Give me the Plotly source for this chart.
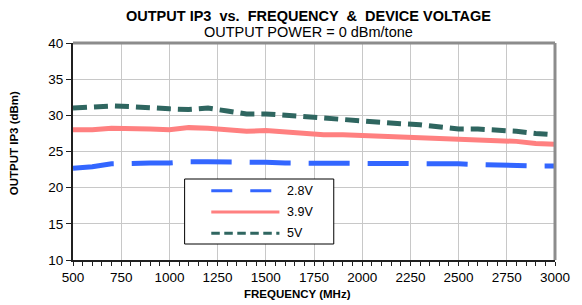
import plotly.graph_objects as go

freq = [500, 600, 700, 800, 900, 1000, 1100, 1200, 1300, 1400, 1500, 1600, 1700,
        1800, 1900, 2000, 2100, 2200, 2300, 2400, 2500, 2600, 2700, 2800, 2900, 3000]
v28 = [22.7, 22.9, 23.3, 23.4, 23.4, 23.4, 23.6, 23.6, 23.6, 23.5, 23.5, 23.4, 23.4,
       23.3, 23.4, 23.45, 23.4, 23.4, 23.3, 23.3, 23.3, 23.2, 23.1, 23.1, 23.0, 23.0]
v39 = [28.0, 28.0, 28.2, 28.2, 28.1, 28.0, 28.3, 28.2, 28.0, 27.8, 27.9, 27.7, 27.6,
       27.3, 27.3, 27.2, 27.1, 27.1, 26.9, 26.8, 26.7, 26.6, 26.5, 26.4, 26.1, 26.0]
v50 = [31.0, 31.2, 31.3, 31.2, 31.0, 30.9, 30.8, 31.0, 30.6, 30.2, 30.2, 30.0, 29.7,
       29.5, 29.4, 29.1, 28.9, 28.85, 28.7, 28.4, 28.1, 28.1, 28.0, 27.8, 27.5, 27.3]
series_names = ["2.8V", "3.9V", "5V"]
x_ticks = [500, 750, 1000, 1250, 1500, 1750, 2000, 2250, 2500, 2750, 3000]
y_ticks = [10, 15, 20, 25, 30, 35, 40]

colors = ["#3366FF", "#FF8080", "#2F6660"]
plot_dash = ["41px,18px", "solid", "14px,7px"]
leg_dash = ["21px,18px", "solid", "8.5px,4.5px"]

FONT = "Liberation Sans, Arial, sans-serif"

fig = go.Figure()
for name, vals, c, d in zip(series_names, [v28, v39, v50], colors, plot_dash):
    fig.add_trace(go.Scatter(x=freq, y=vals, mode="lines", name=name,
                             line=dict(color=c, width=5, dash=d), showlegend=False))

# page has an 8px body margin: figure is sized/offset to compensate
fig.update_layout(
    width=574, height=297,
    margin=dict(l=65, r=21, t=35, b=45),
    paper_bgcolor="white", plot_bgcolor="white",
    font=dict(family=FONT, color="black", size=13.5),
    xaxis=dict(range=[500, 3000], tickvals=x_ticks, ticktext=[str(v) for v in x_ticks],
               showgrid=True, gridcolor="#C8C8C8", gridwidth=1,
               showline=True, linecolor="#202020", linewidth=2,
               ticks="outside", ticklen=4, tickcolor="#202020", tickwidth=1,
               minor=dict(dtick=50, ticks="outside", ticklen=4, tickcolor="#202020", showgrid=False),
               zeroline=False, tickfont=dict(size=13.5)),
    yaxis=dict(range=[10, 40], tickvals=y_ticks, showgrid=True, gridcolor="#C8C8C8", gridwidth=1,
               showline=True, linecolor="#202020", linewidth=2,
               ticks="outside", ticklen=5, tickcolor="#202020", tickwidth=1,
               zeroline=False, tickfont=dict(size=13.5)),
    showlegend=False,
)

# top/right gray frame
fig.add_shape(type="line", xref="paper", yref="paper", x0=0, x1=1, y0=1, y1=1,
              line=dict(color="#8C8C8C", width=3))
fig.add_shape(type="line", xref="paper", yref="paper", x0=1, x1=1, y0=0, y1=1,
              line=dict(color="#8C8C8C", width=3))

# positions given in page pixels (plot area spans x 73..561, y 43..260)
def px_x(x):
    return (x - 73) / 488

def px_y(y):
    return (260 - y) / 217

# Titles
fig.add_annotation(text="<b>OUTPUT IP3  vs.  FREQUENCY  &  DEVICE VOLTAGE</b>", xref="paper", yref="paper",
                   x=px_x(311), y=px_y(16.5), showarrow=False, xanchor="center", yanchor="middle",
                   font=dict(size=14.5, family=FONT))
fig.add_annotation(text="OUTPUT POWER = 0 dBm/tone", xref="paper", yref="paper",
                   x=px_x(311), y=px_y(32), showarrow=False, xanchor="center", yanchor="middle",
                   font=dict(size=14.5, family=FONT))
fig.add_annotation(text="<b>FREQUENCY (MHz)</b>", xref="paper", yref="paper",
                   x=px_x(300), y=px_y(294), showarrow=False, xanchor="center", yanchor="middle",
                   font=dict(size=11.5, family=FONT))
fig.add_annotation(text="<b>OUTPUT IP3 (dBm)</b>", xref="paper", yref="paper",
                   x=px_x(13), y=px_y(143.5), showarrow=False, textangle=-90,
                   xanchor="center", yanchor="middle", font=dict(size=11.5, family=FONT))

# Custom legend
fig.add_shape(type="rect", xref="paper", yref="paper", x0=px_x(186), x1=px_x(337),
              y0=px_y(244), y1=px_y(179), fillcolor="white", line=dict(color="black", width=1),
              layer="above")
rows = [190.7, 212, 233.3]
for name, c, d, ry in zip(series_names, colors, leg_dash, rows):
    fig.add_shape(type="line", xref="paper", yref="paper", x0=px_x(213), x1=px_x(282),
                  y0=px_y(ry), y1=px_y(ry), line=dict(color=c, width=3, dash=d), layer="above")
    fig.add_annotation(text=name, xref="paper", yref="paper", x=px_x(288), y=px_y(ry),
                       showarrow=False, xanchor="left", yanchor="middle",
                       font=dict(size=12.5, family=FONT))

fig.write_html("out.html")
